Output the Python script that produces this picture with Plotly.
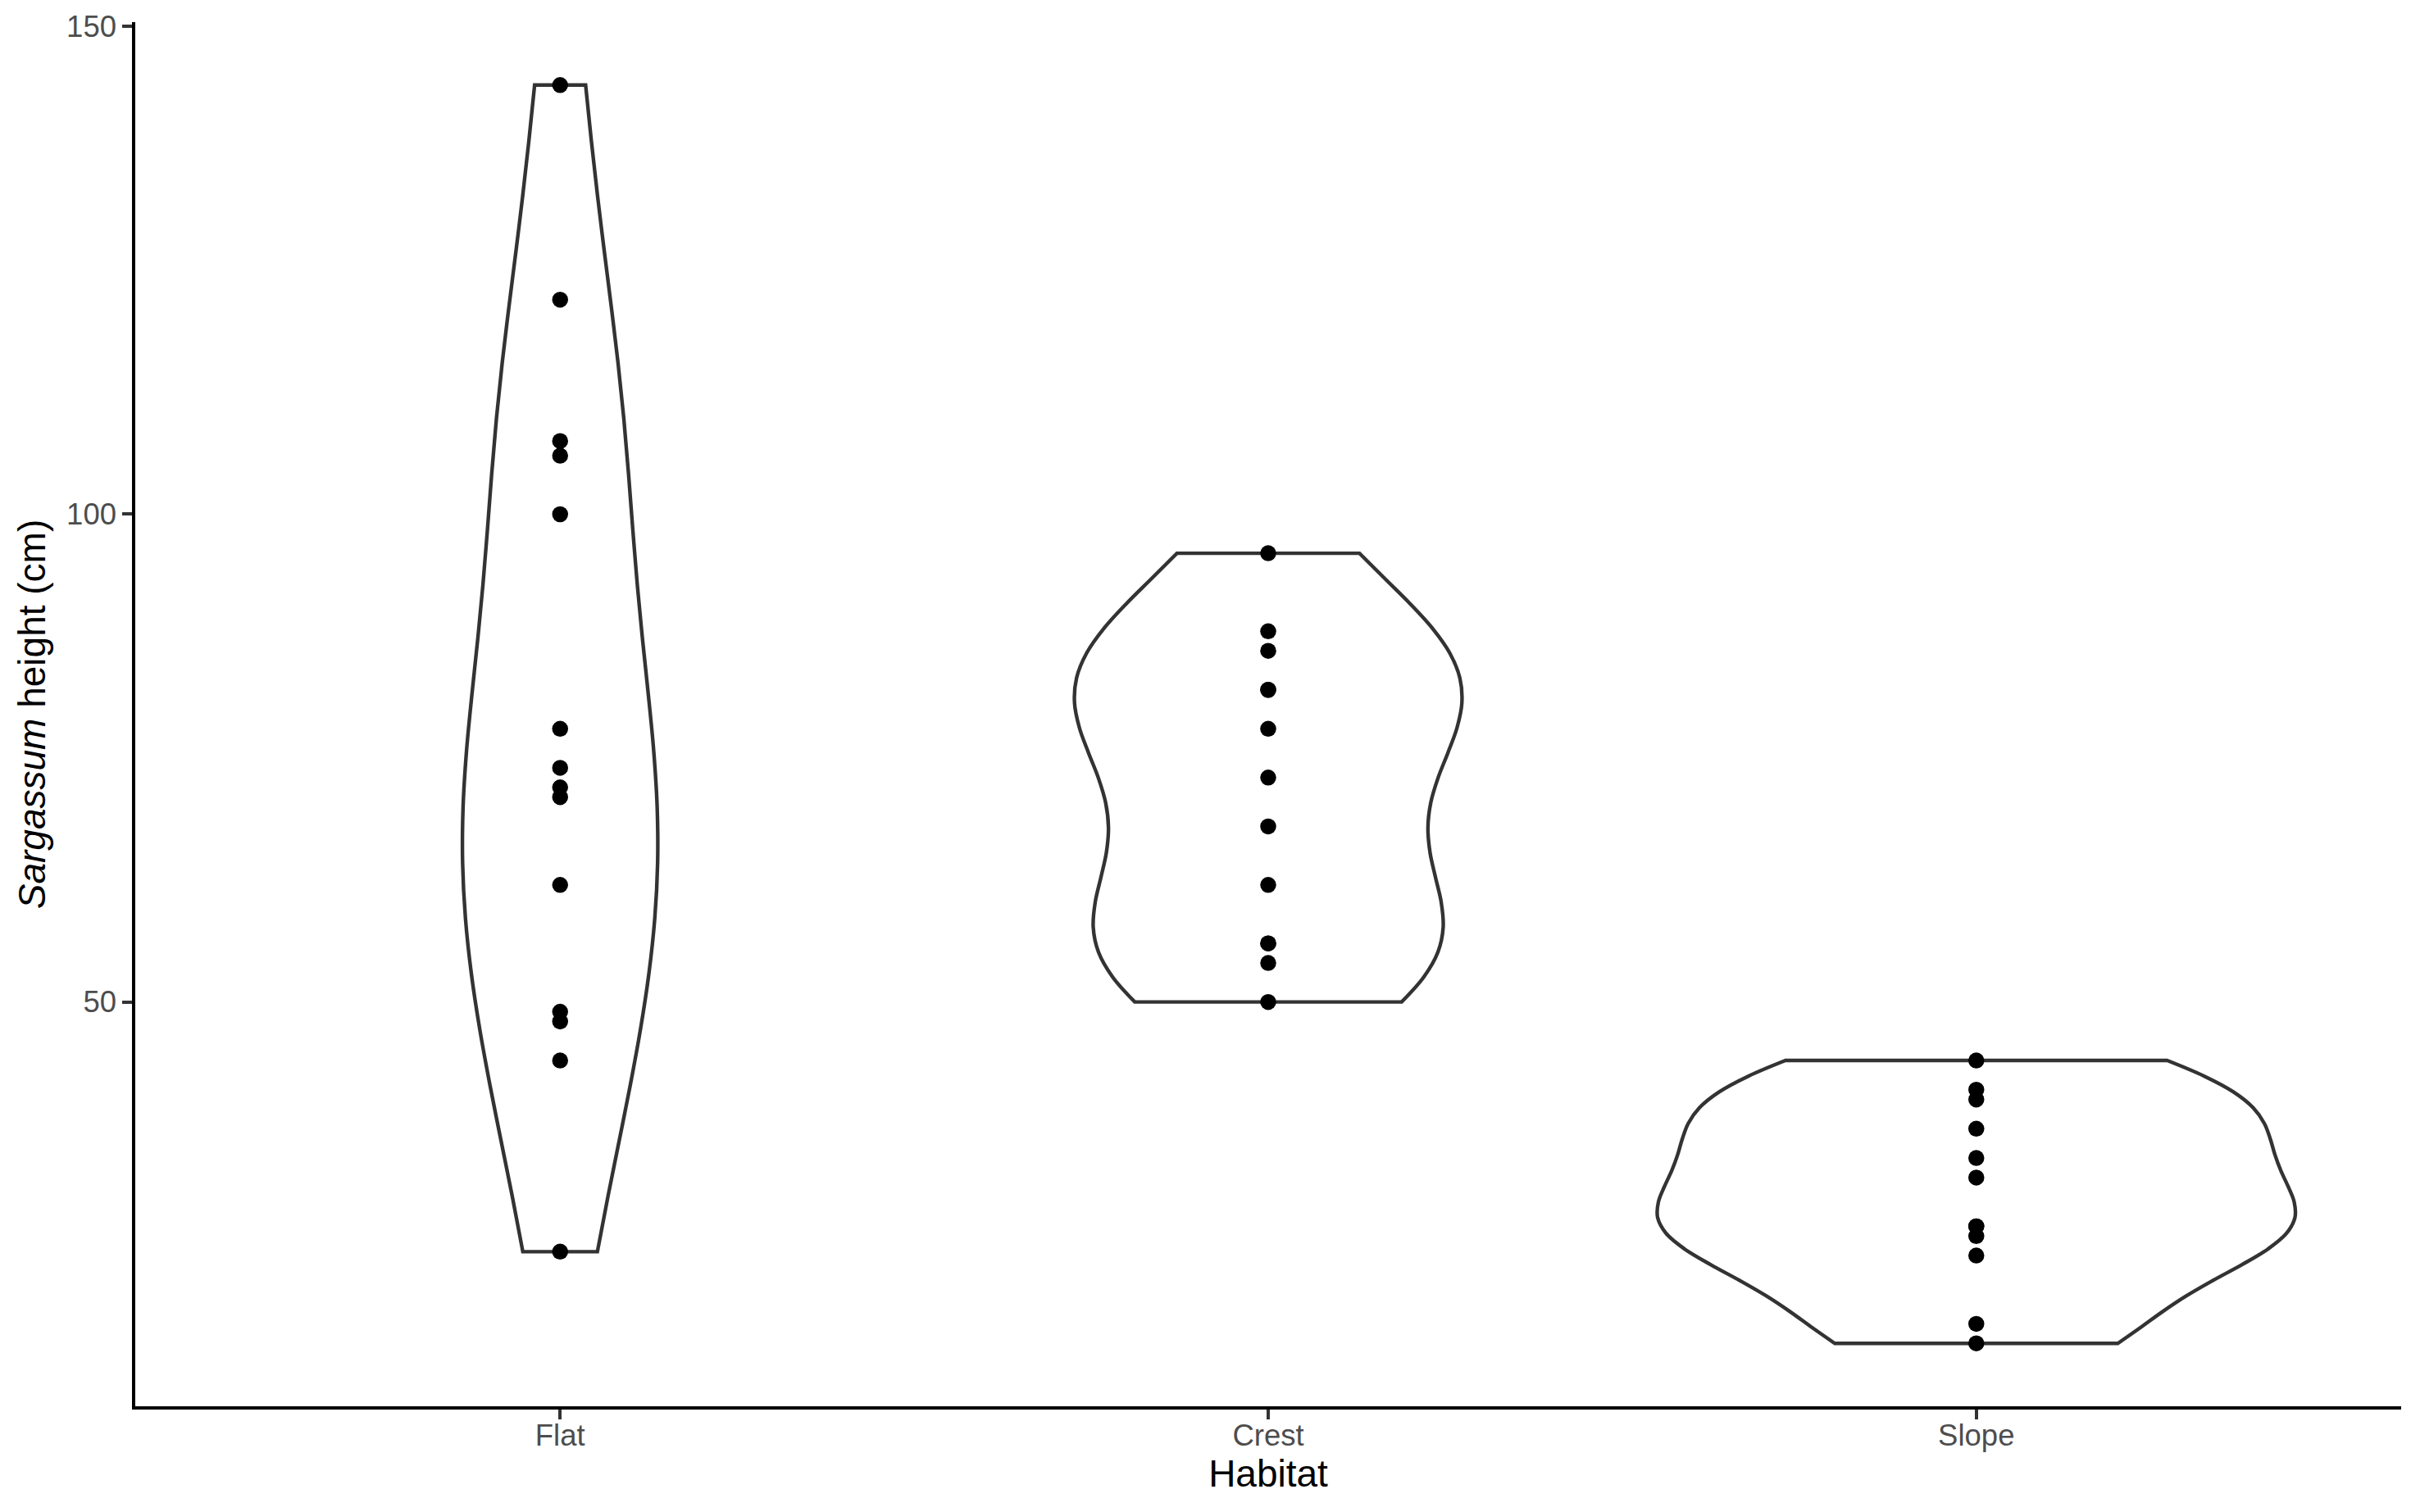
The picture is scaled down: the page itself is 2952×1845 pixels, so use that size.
import numpy as np
import plotly.graph_objects as go

# ---- data ----
habitats = ["Flat", "Crest", "Slope"]
flat_height = [144, 122, 107.5, 106, 100, 78, 74, 72, 71, 62, 49, 48, 44, 24.4]
# repeated values sit under one dot; they are implied by the violin outlines
crest_height = [96, 88, 86, 82, 82, 78, 73, 68, 62, 56, 56, 54, 50]
slope_height = [44, 41, 40, 37, 34, 32, 27, 27, 26, 24, 17, 15]
y_ticks = [50, 100, 150]

groups = {"Flat": flat_height, "Crest": crest_height, "Slope": slope_height}


def bw_nrd0(v):
    v = np.asarray(v, dtype=float)
    sd = v.std(ddof=1)
    iqr = np.percentile(v, 75) - np.percentile(v, 25)
    lo = min(sd, iqr / 1.34)
    return 0.9 * lo * len(v) ** (-0.2)


def kde_max(v, bw):
    v = np.asarray(v, dtype=float)
    grid = np.linspace(v.min(), v.max(), 512)
    z = (grid[:, None] - v[None, :]) / bw
    dens = np.exp(-0.5 * z ** 2).sum(axis=1) / (len(v) * bw * np.sqrt(2 * np.pi))
    return dens.max()


# equal-area scaling (like ggplot2 geom_violin(scale = "area"), width 0.9)
bws = {k: bw_nrd0(v) for k, v in groups.items()}
peaks = {k: kde_max(groups[k], bws[k]) for k in habitats}
top_peak = max(peaks.values())

FONT = "Liberation Sans, Arial, Helvetica, sans-serif"
LW = 4.4
TICK_SIZE = 36.5
TITLE_SIZE = 46
fig = go.Figure()
for name in habitats:
    vals = groups[name]
    fig.add_trace(go.Violin(
        x=[name] * len(vals),
        y=vals,
        name=name,
        bandwidth=bws[name],
        spanmode="hard",
        scalemode="width",
        scalegroup=name,
        width=0.9 * peaks[name] / top_peak,
        fillcolor="white",
        line=dict(color="#333333", width=LW),
        points="all",
        jitter=0,
        pointpos=0,
        marker=dict(color="black", size=19.5, line=dict(width=0)),
        showlegend=False,
        hoverinfo="skip",
    ))

all_vals = flat_height + crest_height + slope_height
lo, hi = min(all_vals), max(all_vals)
pad = 0.05 * (hi - lo)

fig.update_layout(
    width=2952, height=1845,
    margin=dict(l=165, r=23, t=22, b=129, pad=0),
    paper_bgcolor="white", plot_bgcolor="white",
    violinmode="overlay",
    font=dict(family=FONT, color="black"),
    xaxis=dict(
        type="category",
        categoryorder="array", categoryarray=habitats,
        range=[-0.6, len(habitats) - 0.4],
        showline=True, linecolor="black", linewidth=LW,
        ticks="outside", ticklen=11.5, tickwidth=LW, tickcolor="#333333",
        tickfont=dict(size=TICK_SIZE, color="#4D4D4D", family=FONT),
        ticklabelstandoff=-12,
        showgrid=False, zeroline=False,
        title=dict(text="Habitat", font=dict(size=TITLE_SIZE, color="black", family=FONT), standoff=12),
    ),
    yaxis=dict(
        range=[lo - pad, hi + pad],
        tickvals=y_ticks,
        showline=True, linecolor="black", linewidth=LW,
        ticks="outside", ticklen=11.5, tickwidth=LW, tickcolor="#333333",
        tickfont=dict(size=TICK_SIZE, color="#4D4D4D", family=FONT),
        showgrid=False, zeroline=False,
        title=dict(text="<i>Sargassum</i> height (cm)", font=dict(size=TITLE_SIZE, color="black", family=FONT), standoff=12),
    ),
)

fig.write_html("out.html")
